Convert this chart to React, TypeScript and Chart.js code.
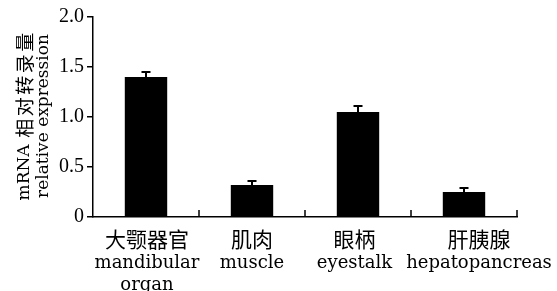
import React, { useEffect, useRef } from "react";
import { Chart, registerables } from "chart.js";

Chart.register(...registerables);

const categoriesZh: string[] = ["大颚器官", "肌肉", "眼柄", "肝胰腺"];
const categoriesEn: string[][] = [["mandibular", "organ"], ["muscle"], ["eyestalk"], ["hepatopancreas"]];
const values: number[] = [1.4, 0.32, 1.05, 0.25];
const errors: number[] = [0.05, 0.04, 0.06, 0.04];
const yTicks: number[] = [0, 0.5, 1.0, 1.5, 2.0];
const yTitleLines: string[] = ["mRNA 相对转录量", "relative expression"];

const LATIN = "'DejaVu Serif', serif";
const NUM = "'Liberation Serif', 'Times New Roman', serif";
const CJK = "'Noto Sans CJK SC', sans-serif";
// horizontal label nudges (layout only)
const labelShift = [1, 0, -3.5, 15];

function isCJK(ch: string) {
  return /[\u3000-\u9fff\uff00-\uffef]/.test(ch);
}

function runs(text: string) {
  const out: { t: string; cjk: boolean }[] = [];
  for (const ch of text) {
    const c = isCJK(ch);
    if (out.length && out[out.length - 1].cjk === c) out[out.length - 1].t += ch;
    else out.push({ t: ch, cjk: c });
  }
  return out;
}

function drawMixed(ctx: CanvasRenderingContext2D, text: string, cx: number, cy: number, latinSize: number, cjkSize: number, spacing: number) {
  const rs = runs(text);
  const widths = rs.map((r) => {
    ctx.font = r.cjk ? `${cjkSize}px ${CJK}` : `${latinSize}px ${LATIN}`;
    return ctx.measureText(r.t).width + (r.cjk ? spacing * r.t.length : 0);
  });
  const total = widths.reduce((a, b) => a + b, 0);
  let x = cx - total / 2;
  ctx.textAlign = "left";
  rs.forEach((r, i) => {
    if (r.cjk) {
      ctx.font = `${cjkSize}px ${CJK}`;
      let xx = x;
      for (const ch of r.t) {
        ctx.fillText(ch, xx + spacing / 2, cy);
        xx += ctx.measureText(ch).width + spacing;
      }
    } else {
      ctx.font = `${latinSize}px ${LATIN}`;
      ctx.fillText(r.t, x, cy);
    }
    x += widths[i];
  });
}

export default function App() {
  const ref = useRef<HTMLCanvasElement | null>(null);
  useEffect(() => {
    if (!ref.current) return;
    const axesPlugin = {
      id: "customAxes",
      afterDatasetsDraw(chart: any) {
        const ctx = chart.ctx;
        const y = chart.scales.y;
        const x = chart.scales.x;
        const area = chart.chartArea;
        ctx.save();
        ctx.strokeStyle = "#000";
        ctx.fillStyle = "#000";
        // error bars
        ctx.lineWidth = 2;
        const meta = chart.getDatasetMeta(0);
        meta.data.forEach((bar: any, i: number) => {
          const top = y.getPixelForValue(values[i] + errors[i]);
          const base = y.getPixelForValue(values[i]);
          ctx.beginPath();
          ctx.moveTo(bar.x, base);
          ctx.lineTo(bar.x, top);
          ctx.moveTo(bar.x - 4.5, top);
          ctx.lineTo(bar.x + 4.5, top);
          ctx.stroke();
        });
        // x axis inward ticks at category boundaries
        ctx.lineWidth = 1.5;
        const n = categoriesZh.length;
        const step = (area.right - area.left) / n;
        ctx.beginPath();
        for (let i = 1; i <= n; i++) {
          const px = area.left + step * i;
          ctx.moveTo(px, area.bottom);
          ctx.lineTo(px, area.bottom - 7);
        }
        ctx.stroke();
        // x labels
        categoriesZh.forEach((zh, i) => {
          const cx = x.getPixelForValue(i) + labelShift[i];
          ctx.textBaseline = "middle";
          ctx.textAlign = "center";
          ctx.font = `21px ${CJK}`;
          ctx.fillText(zh, cx, area.bottom + 22);
          ctx.textBaseline = "alphabetic";
          ctx.font = `18px ${LATIN}`;
          categoriesEn[i].forEach((line, j) => {
            ctx.fillText(line, cx, area.bottom + 51 + j * 22);
          });
        });
        // y title
        ctx.textBaseline = "middle";
        const cy = (area.top + area.bottom) / 2 - 1;
        const xs = [25, 44];
        yTitleLines.forEach((t, i) => {
          ctx.save();
          ctx.translate(xs[i], cy);
          ctx.rotate(-Math.PI / 2);
          drawMixed(ctx, t, 0, 0, 17, 19, 2.5);
          ctx.restore();
        });
        ctx.restore();
      },
    };
    const chart = new Chart(ref.current, {
      type: "bar",
      data: {
        labels: categoriesZh,
        datasets: [
          {
            data: values,
            backgroundColor: "#000",
            borderWidth: 0,
            barPercentage: 0.4,
            categoryPercentage: 1,
          },
        ],
      },
      options: {
        animation: false,
        responsive: true,
        maintainAspectRatio: false,
        layout: { padding: { left: 0, top: 17, right: 40, bottom: 0 } },
        plugins: { legend: { display: false }, tooltip: { enabled: false } },
        scales: {
          x: {
            grid: { display: false, drawTicks: false },
            border: { display: true, color: "#000", width: 1.5 },
            ticks: { display: false },
            afterFit(scale: any) {
              scale.height = 74;
            },
          },
          y: {
            min: 0,
            max: 2,
            afterBuildTicks(scale: any) {
              scale.ticks = yTicks.map((v) => ({ value: v }));
            },
            grid: {
              drawOnChartArea: false,
              drawTicks: true,
              tickLength: 6,
              color: "#000",
              lineWidth: 1.5,
            },
            border: { display: true, color: "#000", width: 1.5 },
            ticks: {
              color: "#000",
              font: { family: NUM, size: 20 },
              padding: 3,
              callback: (v: any) => (Number(v) === 0 ? "0" : Number(v).toFixed(1)),
            },
            afterFit(scale: any) {
              scale.width = 93;
            },
          },
        },
      },
      plugins: [axesPlugin],
    });
    return () => chart.destroy();
  }, []);
  return (
    <div style={{ position: "fixed", left: 0, top: 0, width: 557, height: 291, background: "#fff" }}>
      <canvas ref={ref} />
    </div>
  );
}
